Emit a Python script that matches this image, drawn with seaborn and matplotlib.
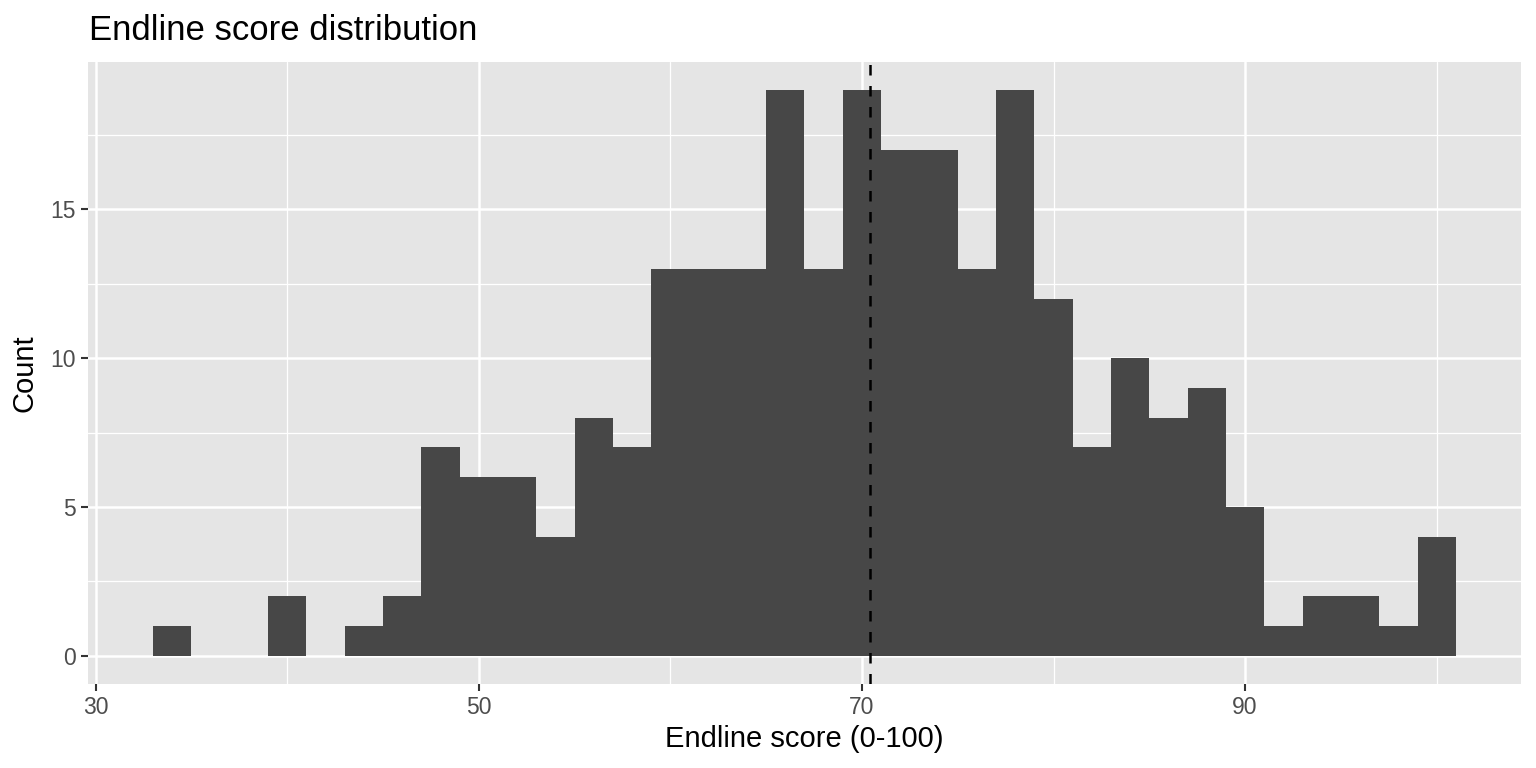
import numpy as np
import pandas as pd
import seaborn as sns
import matplotlib.pyplot as plt
from matplotlib.ticker import MultipleLocator

# histogram bins (width 2)
bin_centers = [34, 36, 38, 40, 42, 44, 46, 48, 50, 52, 54, 56, 58, 60, 62, 64, 66,
               68, 70, 72, 74, 76, 78, 80, 82, 84, 86, 88, 90, 92, 94, 96, 98, 100]
counts = [1, 0, 0, 2, 0, 1, 2, 7, 6, 6, 4, 8, 7, 13, 13, 13, 19,
          13, 19, 17, 17, 13, 19, 12, 7, 10, 8, 9, 5, 1, 2, 2, 1, 4]
mean_score = 70.4
x_ticks = [30, 50, 70, 90]
y_ticks = [0, 5, 10, 15]

df = pd.DataFrame({"score": bin_centers, "n": counts})

sns.set_style("darkgrid", {"axes.facecolor": "#E5E5E5", "grid.color": "white"})
plt.rcParams["font.family"] = ["Liberation Sans", "DejaVu Sans"]

fig = plt.figure(figsize=(15.36, 7.68), dpi=100)
ax = fig.add_axes([0.0573, 0.1094, 0.9329, 0.8099])

sns.histplot(data=df, x="score", weights="n", binwidth=2, binrange=(33, 101),
             color="#474747", alpha=1, edgecolor="none", linewidth=0, ax=ax)

ax.axvline(mean_score, color="black", linewidth=1.8, linestyle=(0, (4.2, 4.2)))

ax.set_xlim(29.6, 104.4)
ax.set_ylim(-0.95, 19.95)
ax.set_xticks(x_ticks)
ax.set_yticks(y_ticks)
ax.xaxis.set_minor_locator(MultipleLocator(10))
ax.yaxis.set_minor_locator(MultipleLocator(2.5))
ax.grid(which="major", color="white", linewidth=1.8)
ax.grid(which="minor", color="white", linewidth=0.9)
ax.set_axisbelow(True)
for s in ax.spines.values():
    s.set_visible(False)

ax.tick_params(axis="both", which="major", length=5, width=1.5, color="#333333",
               labelsize=16.5, labelcolor="#4D4D4D", pad=4, bottom=True, left=True)
ax.tick_params(axis="both", which="minor", length=0)

ax.set_xlabel("Endline score (0-100)", fontsize=21, color="black", labelpad=4)
ax.set_ylabel("Count", fontsize=21, color="black", labelpad=8)
ax.set_title("Endline score distribution", fontsize=25, loc="left", pad=16,
             x=0.001, color="black")

fig.savefig("out.png", dpi=100)
